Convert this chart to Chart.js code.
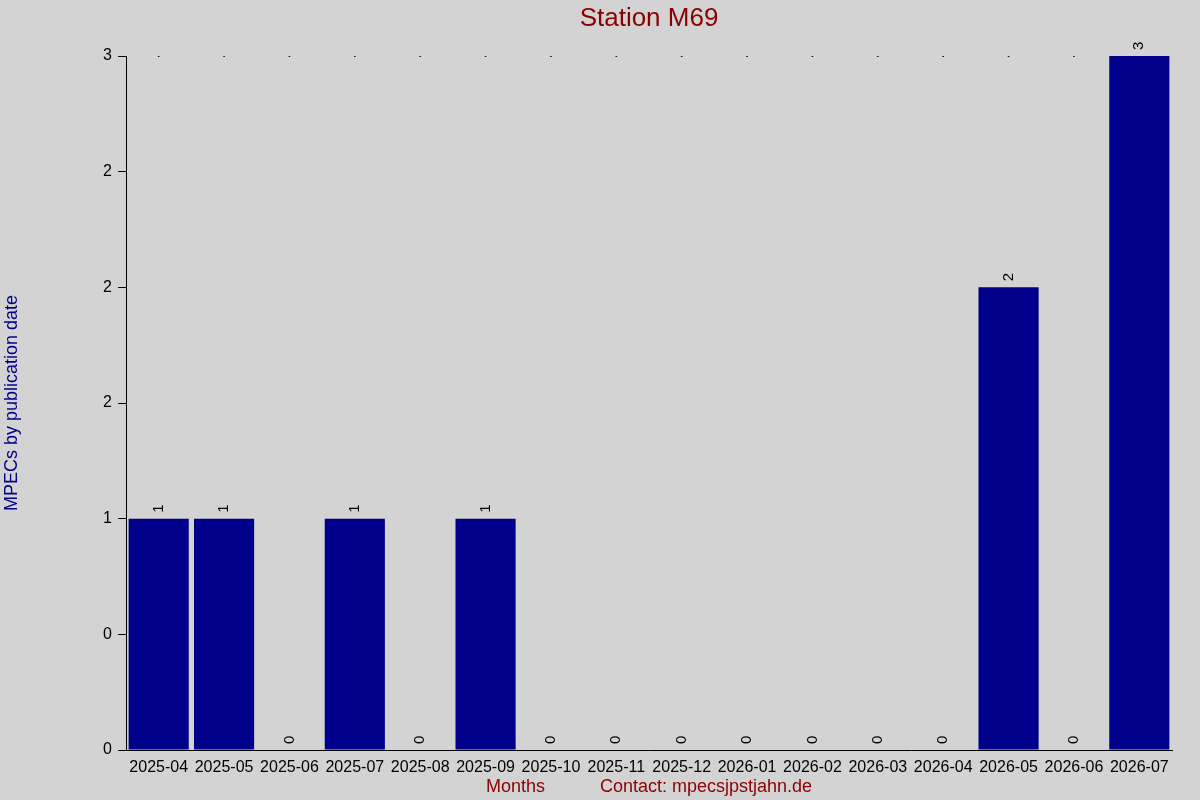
<!DOCTYPE html>
<html>
<head>
<meta charset="utf-8">
<title>Station M69</title>
<script src="https://cdn.jsdelivr.net/npm/chart.js@4.4.1/dist/chart.umd.min.js"></script>
<style>
  html, body { margin: 0; padding: 0; background: #d3d3d3; }
  #wrap { width: 1200px; height: 800px; }
</style>
</head>
<body>
<div id="wrap"><canvas id="mpec-chart" width="1200" height="800"></canvas></div>
<script>
const months = ['2025-04', '2025-05', '2025-06', '2025-07', '2025-08', '2025-09', '2025-10', '2025-11',
  '2025-12', '2026-01', '2026-02', '2026-03', '2026-04', '2026-05', '2026-06', '2026-07'];
const mpecCounts = [1, 1, 0, 1, 0, 1, 0, 0, 0, 0, 0, 0, 0, 2, 0, 3];
const topMarks = [3, 3, 3, 3, 3, 3, 3, 3, 3, 3, 3, 3, 3, 3, 3, 3];
const yTickValues = [0, 0.5, 1, 1.5, 2, 2.5, 3];
const yTickLabels = ['0', '0', '1', '2', '2', '2', '3'];

const FONT = '"Liberation Sans", Arial, sans-serif';

// rotated value labels above each bar
const barLabels = {
  id: 'barLabels',
  afterDatasetsDraw(chart) {
    const { ctx } = chart;
    const meta = chart.getDatasetMeta(0);
    ctx.save();
    ctx.fillStyle = '#000';
    ctx.font = '15px ' + FONT;
    ctx.textAlign = 'left';
    ctx.textBaseline = 'middle';
    meta.data.forEach((bar, i) => {
      ctx.save();
      ctx.translate(bar.x, bar.y - 6);
      ctx.rotate(-Math.PI / 2);
      ctx.fillText(String(mpecCounts[i]), 0, 0);
      ctx.restore();
    });
    ctx.restore();
  }
};

const bgFill = {
  id: 'bgFill',
  beforeDraw(chart) {
    const { ctx } = chart;
    ctx.save();
    ctx.fillStyle = '#d3d3d3';
    ctx.fillRect(0, 0, chart.width, chart.height);
    ctx.restore();
  }
};

const ctx = document.querySelector('#mpec-chart').getContext('2d');
const chart = new Chart(ctx, {
  type: 'bar',
  data: {
    labels: months,
    datasets: [
      {
        label: 'MPECs',
        data: mpecCounts,
        backgroundColor: '#00008b',
        borderWidth: 0,
        barPercentage: 0.92,
        categoryPercentage: 1.0,
        order: 1
      },
      {
        type: 'line',
        label: 'marks',
        data: topMarks,
        showLine: false,
        pointRadius: 1,
        pointBorderWidth: 0,
        pointBackgroundColor: '#000',
        order: 2
      }
    ]
  },
  options: {
    responsive: false,
    devicePixelRatio: 1,
    animation: false,
    layout: { padding: { top: 0, right: 28, bottom: 0, left: 0 } },
    plugins: {
      legend: { display: false },
      tooltip: { enabled: false },
      title: {
        display: true,
        text: 'Station M69',
        color: '#8b0000',
        fullSize: false,
        font: { family: FONT, size: 26, weight: 'normal', lineHeight: 1 },
        padding: { top: 6, bottom: 24 }
      }
    },
    scales: {
      x: {
        grid: { display: false },
        border: { display: true, color: '#000', width: 1 },
        ticks: {
          color: '#000',
          font: { family: FONT, size: 16 },
          padding: 0,
          maxRotation: 0,
          autoSkip: false
        },
        title: {
          display: true,
          text: 'Months           Contact: mpecsjpstjahn.de',
          color: '#8b0000',
          font: { family: FONT, size: 18 },
          padding: { top: 4, bottom: 2 }
        },
        afterFit(scale) { scale.height = 50; }
      },
      y: {
        min: 0,
        max: 3,
        afterBuildTicks(scale) {
          scale.ticks = yTickValues.map(v => ({ value: v }));
        },
        grid: {
          drawOnChartArea: false,
          drawTicks: true,
          tickLength: 8,
          color: '#000'
        },
        border: { display: true, color: '#000', width: 1 },
        ticks: {
          color: '#000',
          font: { family: FONT, size: 16 },
          padding: 6,
          callback: (value, index) => yTickLabels[index]
        },
        title: {
          display: true,
          text: 'MPECs by publication date',
          color: '#00008b',
          font: { family: FONT, size: 18 },
          padding: { top: 1, bottom: 0 }
        },
        afterFit(scale) { scale.width = 126; }
      }
    }
  },
  plugins: [bgFill, barLabels]
});
</script>
</body>
</html>
